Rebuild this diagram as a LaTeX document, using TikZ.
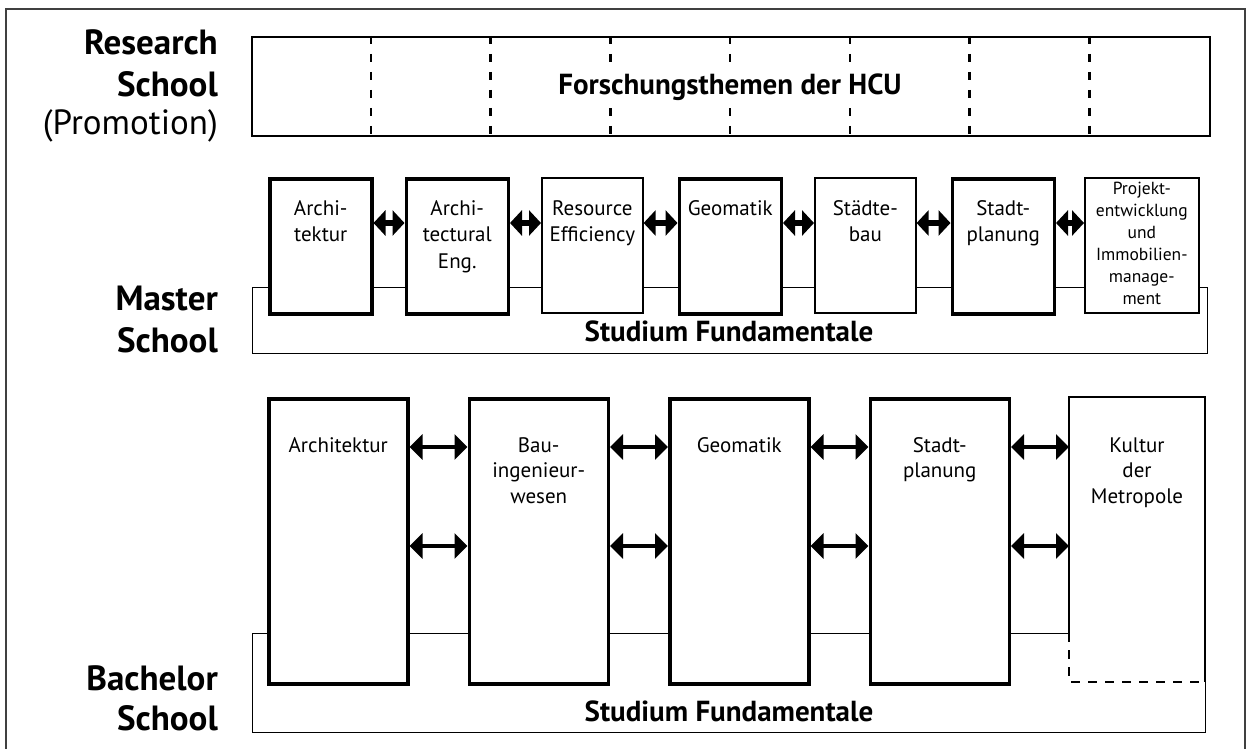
\documentclass[tikz,border=0pt]{standalone}
\usepackage{fontspec}
\setmainfont{PT Sans}
\usetikzlibrary{arrows.meta}
\begin{document}
\begin{tikzpicture}[x=1pt,y=-1pt,
  thickbox/.style={draw, line width=3.5pt, fill=white, anchor=north west, inner sep=0},
  thinbox/.style={draw, line width=1.6pt, fill=white, anchor=north west, inner sep=0},
  fundbox/.style={draw, line width=1.2pt, anchor=north west, inner sep=0},
  schoollbl/.style={anchor=base east, inner sep=0, font=\fontsize{35}{40}\selectfont\bfseries},
  biglbl/.style={anchor=base, inner sep=0, font=\fontsize{29}{34}\selectfont\bfseries},
  mtext/.style={anchor=north, inner sep=0, align=center, font=\fontsize{21}{26.5}\selectfont},
  ptext/.style={anchor=north, inner sep=0, align=center, font=\fontsize{17.5}{22}\selectfont},
  btext/.style={anchor=north, inner sep=0, align=center, font=\fontsize{21}{25.5}\selectfont},
  marrow/.style={line width=5.5pt, {Triangle[length=12pt,width=25pt]}-{Triangle[length=12pt,width=25pt]}},
  barrow/.style={line width=3.2pt, {Triangle[length=13pt,width=25pt]}-{Triangle[length=13pt,width=25pt]}},
  divider/.style={line width=2.5pt, dash pattern=on 8pt off 10pt},
  kdash/.style={line width=2.2pt, dash pattern=on 9pt off 8pt}
]
\newcommand{\fl}{\rule{0pt}{16pt}}
\newcommand{\fp}{\rule{0pt}{13.5pt}}
\useasboundingbox (0,0) rectangle (1250,749);
\fill[white] (0,0) rectangle (1250,749);
% outer frame
\draw[black!75, line width=1.2pt] (6,749) -- (6,9) -- (1245,9) -- (1245,749);

% ---------- Research School ----------
\node[schoollbl] (rl1) at (218,55) {Research};
\node[schoollbl] (rl2) at (218,97) {School};
\node[anchor=base east, inner sep=0, font=\fontsize{35}{40}\selectfont] (rl3) at (218,135) {(Promotion)};
\node[draw, line width=2.2pt, minimum width=958pt, minimum height=99pt, anchor=north west, inner sep=0] (rs) at (251,36) {};
\foreach \k in {1,...,7} {
  \draw[divider] (251+119.75*\k,36) -- (251+119.75*\k,135);
}
\node[biglbl, fill=white, inner xsep=2pt, inner ysep=7pt] (rst) at (730,95) {Forschungsthemen der HCU};

% ---------- Master School ----------
\node[schoollbl] (ml1) at (218,310) {Master};
\node[schoollbl] (ml2) at (218,352) {School};
\node[fundbox, minimum width=955pt, minimum height=66pt] (mf) at (252,287) {};
\node[biglbl] (mft) at (729,341) {Studium Fundamentale};

\node[thickbox, minimum width=102pt, minimum height=135pt] (m1) at (268,177) {};
\node[thickbox, minimum width=102pt, minimum height=135pt] (m2) at (404.5,177) {};
\node[thinbox, minimum width=101pt, minimum height=135pt] (m3) at (541,177) {};
\node[thickbox, minimum width=102pt, minimum height=135pt] (m4) at (677.5,177) {};
\node[thinbox, minimum width=101pt, minimum height=135pt] (m5) at (814,177) {};
\node[thickbox, minimum width=102pt, minimum height=135pt] (m6) at (950.5,177) {};
\node[thinbox, minimum width=114pt, minimum height=135pt] (m7) at (1084,177) {};

\node[mtext] (m1t) at (m1.north |- 0,199) {\fl Archi-\\tektur};
\node[mtext] (m2t) at (m2.north |- 0,199) {\fl Archi-\\tectural\\Eng.};
\node[mtext] (m3t) at (m3.north |- 0,199) {\fl Resource\\Efficiency};
\node[mtext] (m4t) at (m4.north |- 0,199) {\fl Geomatik};
\node[mtext] (m5t) at (m5.north |- 0,199) {\fl Städte-\\bau};
\node[mtext] (m6t) at (m6.north |- 0,199) {\fl Stadt-\\planung};
\node[ptext] (m7t) at (m7.north |- 0,181) {\fp Projekt-\\entwicklung\\und\\Immobilien-\\manage-\\ment};

\coordinate (may) at (0,223);
\draw[marrow] (m1.east |- may) -- (m2.west |- may);
\draw[marrow] (m2.east |- may) -- (m3.west |- may);
\draw[marrow] (m3.east |- may) -- (m4.west |- may);
\draw[marrow] (m4.east |- may) -- (m5.west |- may);
\draw[marrow] (m5.east |- may) -- (m6.west |- may);
\draw[marrow] (m6.east |- may) -- (m7.west |- may);

% ---------- Bachelor School ----------
\node[schoollbl] (bl1) at (218,690) {Bachelor};
\node[schoollbl] (bl2) at (218,730) {School};
\node[fundbox, minimum width=953pt, minimum height=99pt] (bf) at (252,633) {};
\node[biglbl] (bft) at (729,721) {Studium Fundamentale};

\node[thickbox, minimum width=139pt, minimum height=285pt] (b1) at (267,397) {};
\node[thickbox, minimum width=139pt, minimum height=285pt] (b2) at (467.5,397) {};
\node[thickbox, minimum width=139pt, minimum height=285pt] (b3) at (668,397) {};
\node[thickbox, minimum width=139pt, minimum height=285pt] (b4) at (868.5,397) {};
\node[fill=white, anchor=north west, inner sep=0, outer sep=0, minimum width=136pt, minimum height=285pt] (b5) at (1069,397) {};
\draw[line width=2.2pt] (b5.south west |- bf.north) -- (b5.north west) -- (b5.north east) -- (b5.south east);
\draw[kdash] (b5.south west |- bf.north) -- (b5.south west) -- (b5.south east);

\node[btext] (b1t) at (b1.north |- 0,436) {\fl Architektur};
\node[btext] (b2t) at (b2.north |- 0,436) {\fl Bau-\\ingenieur-\\wesen};
\node[btext] (b3t) at (b3.north |- 0,436) {\fl Geomatik};
\node[btext] (b4t) at (b4.north |- 0,436) {\fl Stadt-\\planung};
\node[btext] (b5t) at (b5.north |- 0,436) {\fl Kultur\\der\\Metropole};

\coordinate (ba1) at (0,447);
\coordinate (ba2) at (0,546);
\foreach \a/\b in {b1/b2,b2/b3,b3/b4,b4/b5} {
  \draw[barrow] (\a.east |- ba1) -- (\b.west |- ba1);
  \draw[barrow] (\a.east |- ba2) -- (\b.west |- ba2);
}
\end{tikzpicture}
\end{document}
